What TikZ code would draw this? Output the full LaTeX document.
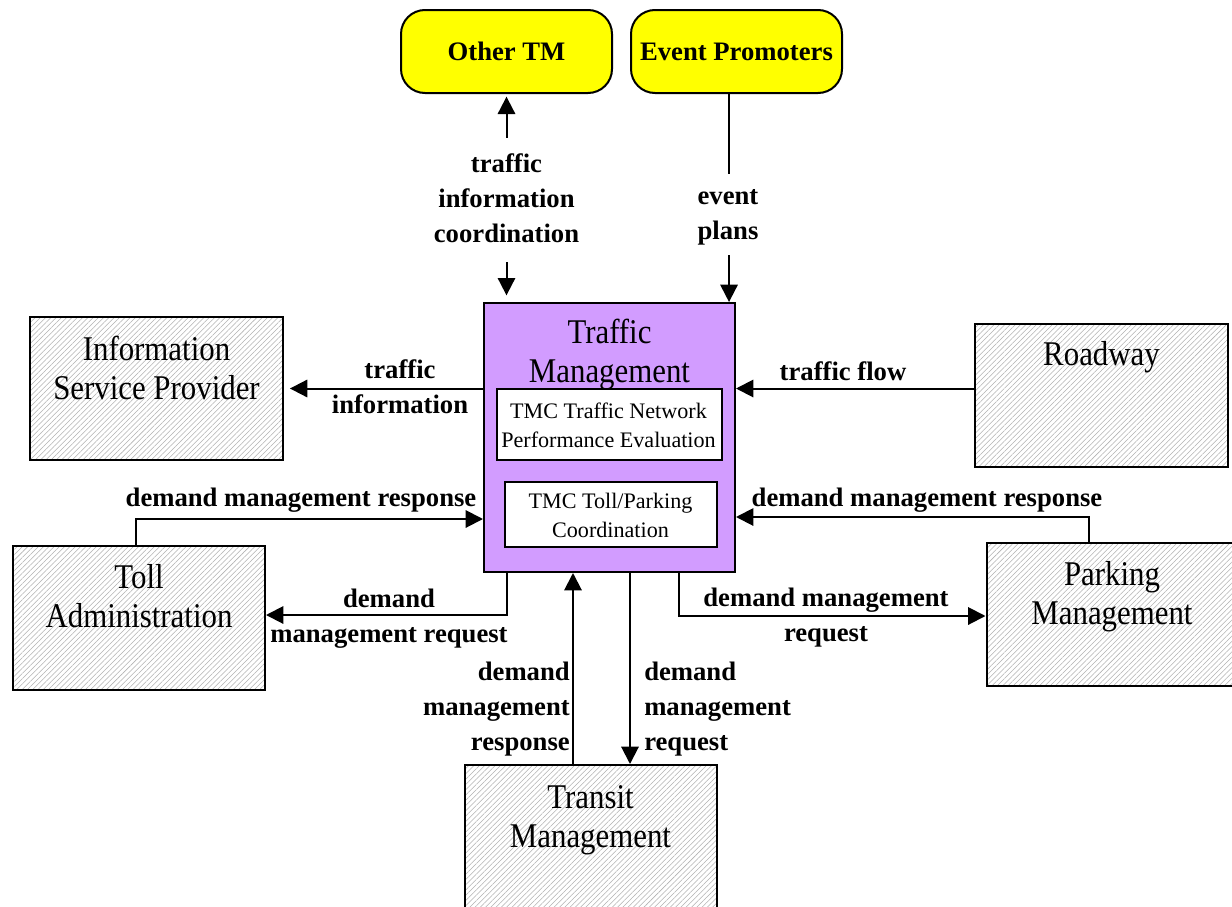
\documentclass[tikz,border=0pt]{standalone}
\usepackage{fontspec}
\setmainfont{Liberation Serif}
\newfontfamily\bigserif[FakeStretch=0.89]{Liberation Serif}
\usetikzlibrary{arrows.meta,patterns.meta}
\definecolor{tmpurple}{RGB}{210,156,255}
\definecolor{tyellow}{RGB}{255,255,0}
\newcommand\ccol[1]{\begin{tabular}[t]{@{}c@{}}#1\end{tabular}}
\newcommand\rcol[1]{\begin{tabular}[t]{@{}r@{}}#1\end{tabular}}
\newcommand\lcol[1]{\begin{tabular}[t]{@{}l@{}}#1\end{tabular}}
\begin{document}
\begin{tikzpicture}[x=0.75pt,y=-0.75pt,
  >={Triangle[length=13pt,width=13pt]},
  flow/.style={line width=1.5pt},
  hatchbox/.style={draw, line width=1.5pt, minimum width=189pt, minimum height=107.25pt, inner sep=0pt,
    preaction={fill=white}, pattern={Lines[angle=45,distance=2.8pt,line width=0.4pt]}, pattern color=black!30},
  term/.style={draw, fill=tyellow, rounded corners=18pt, line width=1.5pt, minimum width=158.25pt,
    minimum height=62.25pt, inner sep=0pt, font=\bfseries\fontsize{20}{24}\selectfont},
  tmbox/.style={draw, fill=tmpurple, line width=1.5pt, minimum width=188.25pt, minimum height=201.75pt, inner sep=0pt},
  inbox/.style={draw, fill=white, line width=1.5pt, inner sep=0pt},
  lbl/.style={font=\bfseries\fontsize{20}{26.25}\selectfont, inner sep=0pt, anchor=base},
  big/.style={font=\bigserif\fontsize{26}{29.25}\selectfont, inner sep=0pt, anchor=base},
  small/.style={font=\fontsize{16.6}{21.75}\selectfont, inner sep=0pt, anchor=base}
]
\useasboundingbox (0,0) rectangle (1232,907);
\clip (0,0) rectangle (1232,907);

% terminators
\node[term, text depth=-2pt] (OTM) at (506.5,51.5) {Other TM};
\node[term, text depth=-2pt] (EP) at (736.5,51.5) {Event Promoters};

% central box
\node[tmbox] (TM) at (609.5,437.5) {};
\node[big] (TMt) at (609.5,343) {\ccol{Traffic\\Management}};
\node[inbox, minimum width=168.75pt, minimum height=53.25pt] (IB1) at (609.5,424.5) {};
\node[small] (IB1t) at (608.5,418) {\ccol{TMC Traffic Network\\Performance Evaluation}};
\node[inbox, minimum width=159pt, minimum height=48.75pt] (IB2) at (611,514.5) {};
\node[small] (IB2t) at (610.5,508) {\ccol{TMC Toll/Parking\\Coordination}};

% hatched boxes
\node[hatchbox, minimum width=189.75pt] (ISP) at (156.5,388.5) {};
\node[big] (ISPt) at (156.5,360) {\ccol{Information\\Service Provider}};
\node[hatchbox, minimum width=189.75pt] (RW) at (1101.5,395.5) {};
\node[big] (RWt) at (1101.5,365) {Roadway};
\node[hatchbox, minimum height=108pt] (TA) at (139,618) {};
\node[big] (TAt) at (139,588) {\ccol{Toll\\Administration}};
\node[hatchbox] (PM) at (1112.5,614.5) {};
\node[big] (PMt) at (1112,585) {\ccol{Parking\\Management}};
\node[hatchbox] (TR) at (591,836.5) {};
\node[big] (TRt) at (590.5,808) {\ccol{Transit\\Management}};

% connectors
\draw[flow,<->, shorten <=5pt, shorten >=2pt] (OTM.south |- TM.north) -- (OTM.south);
\node[lbl, fill=white, inner ysep=7pt, inner xsep=2pt] (L1) at (506.5,172) {\ccol{traffic\\information\\coordination}};

\coordinate (epS) at ([xshift=-5.6pt]EP.south);
\draw[flow,->] (epS) -- (epS |- TM.north);
\node[lbl, fill=white, inner ysep=4pt, inner xsep=2pt] (L2) at (728,204) {\ccol{event\\plans}};

\draw[flow,->, shorten >=5pt] (ISP.east -| TM.west) -- (ISP.east);
\node[lbl] (L3) at (400,378) {\ccol{traffic\\information}};

\draw[flow,->] (ISP.east -| RW.west) -- (ISP.east -| TM.east);
\node[lbl] (L4) at (843,380) {traffic flow};

\coordinate (taN) at ([xshift=-2.25pt]TA.north);
\draw[flow,->] (taN) |- (TM.west |- 0,519);
\node[lbl] (L5) at (301,506) {demand management response};

\draw[flow,->] (507,0 |- TM.south) -- (507,615) -- (TA.east |- 0,615);
\node[lbl] (L6) at (389,607) {\ccol{demand\\management request}};

\coordinate (pmN) at ([xshift=-18pt]PM.north);
\draw[flow,->] (pmN) |- (TM.east |- 0,517);
\node[lbl] (L7) at (927,506) {demand management response};

\draw[flow,->] (679,0 |- TM.south) -- (679,616) -- (PM.west |- 0,616);
\node[lbl] (L8) at (826,606) {\ccol{demand management\\request}};

\draw[flow,->] (573,0 |- TR.north) -- (573,0 |- TM.south);
\node[lbl, anchor=base east] (L9) at (570,680) {\rcol{demand\\management\\response}};

\draw[flow,->] (630,0 |- TM.south) -- (630,0 |- TR.north);
\node[lbl, anchor=base west] (L10) at (644,680) {\lcol{demand\\management\\request}};
\end{tikzpicture}
\end{document}
